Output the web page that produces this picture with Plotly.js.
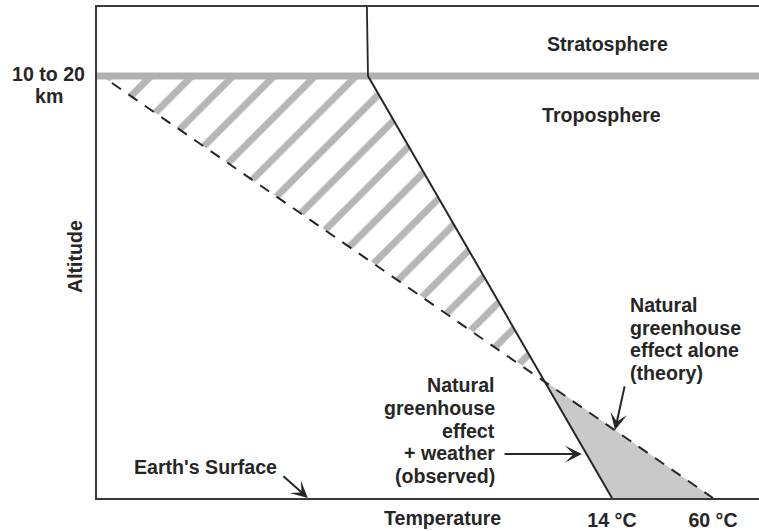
<!DOCTYPE html>
<html>
<head>
<meta charset="utf-8">
<script src="https://cdn.plot.ly/plotly-3.0.1.min.js"></script>
<style>
  html, body { margin: 0; padding: 0; background: #ffffff; }
  #chart { width: 759px; height: 531px; }
</style>
</head>
<body>
<div id="chart"></div>
<script>
// ---- data (schematic values) ----
const tropopauseAlt = 15;                 // "10 to 20 km"
const observedTemp = [-97.1, 14];          // natural greenhouse effect + weather (observed)
const observedAlt  = [15, 0];
const theoryTemp   = [-213.7, 60];         // natural greenhouse effect alone (theory)
const theoryAlt    = [14.75, 0];
const stratoTemp   = [-97.6, -97.1];       // stratosphere profile
const stratoAlt    = [17.45, 15];
const hatchTemp    = [-218.3, -97.1, -16.7]; // region between theory and observed aloft
const hatchAlt     = [15, 15, 4.16];
const warmTemp     = [-16.7, 14, 60];      // region between observed and theory near surface
const warmAlt      = [4.16, 0, 0];
const tempTicks    = [14, 60];
const tempTickText = ['14 °C', '60 °C'];
const theoryLines   = ['Natural', 'greenhouse', 'effect alone', '(theory)'];
const observedLines = ['Natural', 'greenhouse', 'effect', '+ weather', '(observed)'];
const altTickLines  = ['10 to 20', 'km'];

const xRange = [-220.5, 80.95];
const yRange = [0, 17.45];

const INK = '#262626';
const GREY_BAND = '#b1b1b1';
const FONT = { family: 'Arial, "Liberation Sans", Helvetica, sans-serif', size: 19.6, color: INK, weight: 'bold' };

// pixel -> paper helpers (plot area spans x 97..759, y 7..498)
const L = 97, R = 759, T = 7, B = 498;
const px = x => (x - L) / (R - L);
const py = y => (B - y) / (B - T);

const traces = [
  { x: hatchTemp, y: hatchAlt, mode: 'lines', fill: 'toself', line: { width: 0 },
    fillcolor: 'rgba(0,0,0,0)',
    fillpattern: { shape: '/', fgcolor: '#b6b6b6', bgcolor: 'rgba(255,255,255,0)', size: 29, solidity: 0.24 } },
  { x: warmTemp, y: warmAlt, mode: 'lines', fill: 'toself', fillcolor: '#c9c9c9', line: { width: 0 } },
  { x: xRange, y: [tropopauseAlt, tropopauseAlt], mode: 'lines', line: { color: GREY_BAND, width: 7 } },
  { x: theoryTemp, y: theoryAlt, mode: 'lines', line: { color: INK, width: 2, dash: '11px,9px' } },
  { x: observedTemp, y: observedAlt, mode: 'lines', line: { color: INK, width: 2 } },
  { x: stratoTemp, y: stratoAlt, mode: 'lines', line: { color: INK, width: 1.8 } }
];

const annotations = [];
function txt(text, x, y, xanchor) {
  annotations.push({ xref: 'paper', yref: 'paper', x: px(x), y: py(y), text: text, showarrow: false,
    xanchor: xanchor || 'center', yanchor: 'middle', font: FONT });
}
txt('Stratosphere', 607, 44);
txt('Troposphere', 601, 115);
altTickLines.forEach((t, i) => txt(t, 49, 74 + i * 22));
txt('Temperature', 442, 518);
txt("Earth's Surface", 205, 467);
theoryLines.forEach((t, i) => txt(t, 628, 305 + i * 22.7, 'left'));
observedLines.forEach((t, i) => txt(t, 497, 385 + i * 22.8, 'right'));
annotations.push({ xref: 'paper', yref: 'paper', x: px(75), y: py(257), text: 'Altitude', showarrow: false,
  textangle: -90, xanchor: 'center', yanchor: 'middle', font: FONT });

function arrow(tipX, tipY, tailX, tailY) {
  annotations.push({ xref: 'x', yref: 'y', axref: 'x', ayref: 'y', x: tipX, y: tipY, ax: tailX, ay: tailY,
    text: '', showarrow: true, arrowhead: 3, arrowsize: 1.4, arrowwidth: 2, arrowcolor: INK, standoff: 0 });
}
arrow(15.4, 2.42, 19.9, 4.02);     // theory
arrow(0.3, 1.56, -35.6, 1.56);     // observed
arrow(-124.5, 0, -136.3, 0.82);    // Earth's surface

const layout = {
  width: 759, height: 531,
  margin: { l: L, r: 759 - R, t: T, b: 531 - B, pad: 0 },
  paper_bgcolor: '#ffffff', plot_bgcolor: '#ffffff',
  showlegend: false, hovermode: false,
  xaxis: { range: xRange, showgrid: false, zeroline: false, showline: true, mirror: true,
    linecolor: '#3a3a3a', linewidth: 2, ticks: '', tickvals: tempTicks, ticktext: tempTickText,
    tickfont: FONT, ticklabelstandoff: 3, fixedrange: true },
  yaxis: { range: yRange, showgrid: false, zeroline: false, showline: true,
    linecolor: '#3a3a3a', linewidth: 2, ticks: '', showticklabels: false, fixedrange: true },
  annotations: annotations
};

Plotly.newPlot('chart', traces, layout, { staticPlot: true, displayModeBar: false });
</script>
</body>
</html>
